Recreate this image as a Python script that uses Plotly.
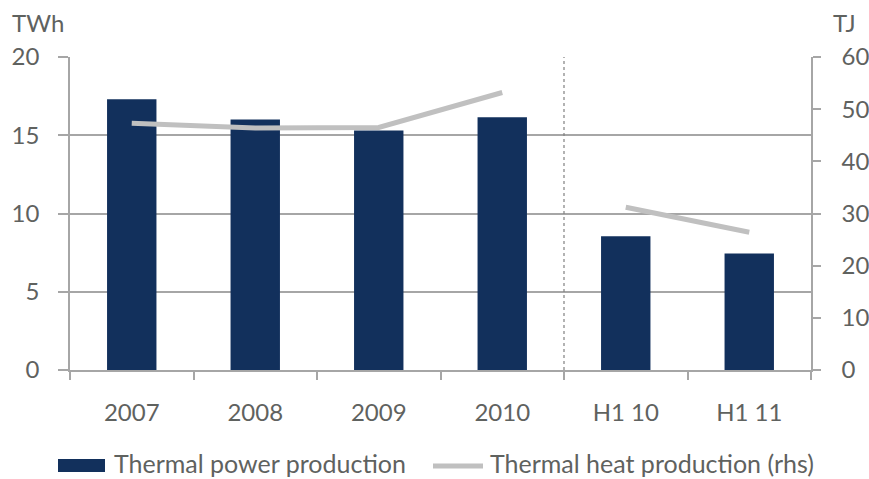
import plotly.graph_objects as go

categories = ["2007", "2008", "2009", "2010", "H1 10", "H1 11"]
power_twh = [17.3, 16.0, 15.3, 16.15, 8.55, 7.45]
heat_tj = [47.3, 46.4, 46.5, 53.2, 31.2, 26.4]
series_names = ["Thermal power production", "Thermal heat production (rhs)"]

FONT = "Lato, Liberation Sans, sans-serif"
TXT = "#5f625f"
GRID = "#a6a6a6"
BAR = "#12305c"
LINE = "#c0c0c0"
FS = 24
LFS = 25

W, H = 869, 479
PL, PR, PT, PB = 70, 811, 57, 370   # plot area in pixels


def px(x):
    return (x - PL) / (PR - PL)


def py(y):
    return (PB - y) / (PB - PT)


fig = go.Figure()
fig.add_trace(go.Bar(
    x=categories, y=power_twh, name=series_names[0],
    marker=dict(color=BAR, line=dict(width=0)), width=0.4, showlegend=False,
))
fig.add_trace(go.Scatter(
    x=categories[:4], y=heat_tj[:4], name=series_names[1],
    mode="lines", line=dict(color=LINE, width=5), yaxis="y2", showlegend=False,
))
fig.add_trace(go.Scatter(
    x=categories[4:], y=heat_tj[4:], name=series_names[1],
    mode="lines", line=dict(color=LINE, width=5), yaxis="y2", showlegend=False,
))

shapes = [
    dict(type="line", xref="x", yref="paper", x0=3.5, x1=3.5, y0=0, y1=1,
         line=dict(color="#808080", width=1.2, dash="dot")),
    # legend keys
    dict(type="rect", xref="paper", yref="paper", x0=px(58), x1=px(105),
         y0=py(472), y1=py(459), fillcolor=BAR, line=dict(width=0)),
    dict(type="line", xref="paper", yref="paper", x0=px(433), x1=px(483),
         y0=py(466), y1=py(466), line=dict(color=LINE, width=5)),
]

annotations = [
    dict(text="TWh", xref="paper", yref="paper", x=px(10), y=py(22), xanchor="left",
         yanchor="middle", showarrow=False, font=dict(size=FS, color=TXT)),
    dict(text="TJ", xref="paper", yref="paper", x=px(831), y=py(22), xanchor="left",
         yanchor="middle", showarrow=False, font=dict(size=FS, color=TXT)),
    dict(text=series_names[0], xref="paper", yref="paper", x=px(112), y=py(463),
         xanchor="left", yanchor="middle", showarrow=False, font=dict(size=LFS, color=TXT)),
    dict(text=series_names[1], xref="paper", yref="paper", x=px(488), y=py(463),
         xanchor="left", yanchor="middle", showarrow=False, font=dict(size=LFS, color=TXT)),
]

fig.update_layout(
    width=W, height=H,
    margin=dict(l=PL, r=W - PR, t=PT, b=H - PB, autoexpand=False),
    paper_bgcolor="white", plot_bgcolor="white",
    font=dict(family=FONT, size=FS, color=TXT),
    showlegend=False,
    xaxis=dict(
        type="category", showline=True, linecolor=GRID, linewidth=1.5,
        ticks="outside", tickson="boundaries", ticklen=8, tickcolor=GRID, tickwidth=1.5,
        showgrid=False, tickfont=dict(size=FS, color=TXT), ticklabelstandoff=20,
    ),
    yaxis=dict(
        range=[0, 20], dtick=5, showline=True, linecolor=GRID, linewidth=1.5,
        ticks="outside", ticklen=10, tickcolor=GRID, tickwidth=1.5,
        showgrid=True, gridcolor=GRID, gridwidth=1.5, zeroline=False,
        tickfont=dict(size=FS, color=TXT), ticklabelstandoff=14,
    ),
    yaxis2=dict(
        range=[0, 60], dtick=10, overlaying="y", side="right", showline=True,
        linecolor=GRID, linewidth=1.5, ticks="outside", ticklen=8, tickcolor=GRID,
        tickwidth=1.5, showgrid=False, zeroline=False,
        tickfont=dict(size=FS, color=TXT), ticklabelstandoff=16,
    ),
    shapes=shapes,
    annotations=annotations,
)

fig.write_html(
    "out.html",
    config={"displayModeBar": False},
    post_script=(
        "document.documentElement.style.overflow='hidden';"
        "document.body.style.margin='0';document.body.style.overflow='hidden';"
    ),
)
